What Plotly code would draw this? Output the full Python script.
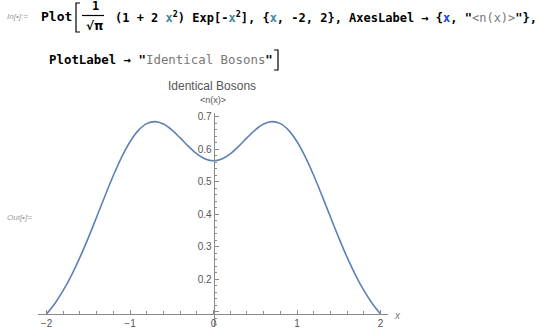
import plotly.graph_objects as go

# ---- data ----
x_vals = [-2.0, -1.9, -1.8, -1.7, -1.6, -1.5, -1.4, -1.3, -1.2, -1.1, -1.0,
          -0.9, -0.8, -0.7, -0.6, -0.5, -0.4, -0.3, -0.2, -0.1, 0.0,
          0.1, 0.2, 0.3, 0.4, 0.5, 0.6, 0.7, 0.8, 0.9, 1.0,
          1.1, 1.2, 1.3, 1.4, 1.5, 1.6, 1.7, 1.8, 1.9, 2.0]
n_vals = [0.0930, 0.1254, 0.1653, 0.2126, 0.2669, 0.3271, 0.3910, 0.4560, 0.5187, 0.5754, 0.6227,
          0.6576, 0.6783, 0.6844, 0.6771, 0.6591, 0.6346, 0.6085, 0.5854, 0.5698, 0.5642,
          0.5698, 0.5854, 0.6085, 0.6346, 0.6591, 0.6771, 0.6844, 0.6783, 0.6576, 0.6227,
          0.5754, 0.5187, 0.4560, 0.3910, 0.3271, 0.2669, 0.2126, 0.1653, 0.1254, 0.0930]
x_ticks = [-2, -1, 0, 1, 2]
x_tick_text = ["\u22122", "\u22121", "0", "1", "2"]
y_ticks = [0.1, 0.2, 0.3, 0.4, 0.5, 0.6, 0.7]
y_tick_text = ["", "0.2", "0.3", "0.4", "0.5", "0.6", "0.7"]
plot_title = "Identical Bosons"
y_label = "&lt;n(x)&gt;"
x_label = "x"

W, H = 546, 332
L, R, T, B = 38, 158, 113, 6
PW, PH = W - L - R, H - T - B
x_range = [-2.102, 2.089]
y_range = [0.056, 0.711]
x_cross = 0.0930  # y value where the x axis sits

AX = "#8a8a8a"
TXT = "#555555"
CURVE = "#5E81B5"


def px(xp):
    return (xp - L) / PW


def py(yp):
    return (H - B - yp) / PH


fig = go.Figure()
fig.add_trace(go.Scatter(x=x_vals, y=n_vals, mode="lines",
                         line=dict(color=CURVE, width=1.6, shape="spline"),
                         hoverinfo="skip", showlegend=False))

x_pos = (x_cross - y_range[0]) / (y_range[1] - y_range[0])
y_pos = (0 - x_range[0]) / (x_range[1] - x_range[0])

fig.update_layout(
    width=W, height=H, margin=dict(l=L, r=R, t=T, b=B, pad=0),
    paper_bgcolor="white", plot_bgcolor="white",
    font=dict(family="Liberation Sans, Arial, sans-serif", size=10, color=TXT),
    xaxis=dict(range=x_range, anchor="free", position=x_pos, showgrid=False, zeroline=False,
               showline=True, linecolor=AX, linewidth=1,
               tickmode="array", tickvals=x_ticks, ticktext=x_tick_text,
               ticks="inside", ticklen=4, tickcolor=AX, tickwidth=1,
               tickfont=dict(size=10, color=TXT),
               minor=dict(tickmode="linear", tick0=0, dtick=0.2, ticks="inside",
                          ticklen=2.5, tickcolor=AX, tickwidth=1),
               automargin=False, fixedrange=True),
    yaxis=dict(range=y_range, anchor="free", position=y_pos, showgrid=False, zeroline=False,
               showline=True, linecolor=AX, linewidth=1,
               tickmode="array", tickvals=y_ticks, ticktext=y_tick_text,
               ticks="inside", ticklen=4, tickcolor=AX, tickwidth=1,
               tickfont=dict(size=10, color=TXT),
               minor=dict(tickmode="linear", tick0=0, dtick=0.02, ticks="inside",
                          ticklen=2.5, tickcolor=AX, tickwidth=1),
               automargin=False, fixedrange=True),
)

anns = []


def ann(text, xp, yp, size=10, color=TXT, family="Liberation Sans, Arial, sans-serif",
        xanchor="center", yanchor="middle"):
    anns.append(dict(text=text, x=px(xp), y=py(yp), xref="paper", yref="paper",
                     showarrow=False, xanchor=xanchor, yanchor=yanchor,
                     font=dict(size=size, color=color, family=family)))


# chart labels
ann(plot_title, 212, 86, size=12, color="#555555")
ann(y_label, 213, 100, size=9, color="#555555")
ann("<i>" + x_label + "</i>", 397, 315, size=10, color="#777777")

# notebook code text
MONO = "DejaVu Sans Mono, Liberation Mono, monospace"
TEAL = "#3f8a9a"
BLUE = "#1f3fd6"
GRAY = "#777777"
ann("<i>In[\u2022]:=</i>", 5, 17, size=8, color="#999999", xanchor="left")
ann("<i>Out[\u2022]=</i>", 5, 217, size=8, color="#999999", xanchor="left")
ann("<b>Plot</b>", 39, 16, size=13, color="#000000", family=MONO, xanchor="left")
ann("<b>1</b>", 95, 6, size=12, color="#000000", family=MONO)
ann("<b>\u221a\u03c0</b>", 95, 26, size=12, color="#000000", family="DejaVu Sans")
line1 = ("<b>(1 + 2 <span style='color:%s'>x</span><sup>2</sup>) Exp[-<span style='color:%s'>x</span><sup>2</sup>], "
         "{<span style='color:%s'>x</span>, -2, 2}, AxesLabel \u2192 {<span style='color:%s'>x</span>, \"</b>"
         "<span style='color:%s'>&lt;n(x)&gt;</span><b>\"},</b>") % (TEAL, TEAL, TEAL, BLUE, GRAY)
ann(line1, 113, 17, size=12, color="#000000", family=MONO, xanchor="left")
line2 = ("<b>PlotLabel \u2192 \"</b><span style='color:%s'>Identical Bosons</span><b>\"</b>") % GRAY
ann(line2, 47, 60, size=12.4, color="#000000", family=MONO, xanchor="left")


def bracket_path(x_edge, y_top, y_bot, hook):
    x_in = x_edge + hook
    return "M %f,%f L %f,%f L %f,%f L %f,%f" % (
        px(x_in), py(y_top), px(x_edge), py(y_top), px(x_edge), py(y_bot), px(x_in), py(y_bot))


shapes = [
    dict(type="line", xref="paper", yref="paper",
         x0=px(82), x1=px(104), y0=py(15.5), y1=py(15.5),
         line=dict(color="#000000", width=1.2)),
    dict(type="path", xref="paper", yref="paper", path=bracket_path(76, 3, 32, 4),
         line=dict(color="#000000", width=1.2)),
    dict(type="path", xref="paper", yref="paper", path=bracket_path(278, 50, 70, -4),
         line=dict(color="#000000", width=1.2)),
]

fig.update_layout(annotations=anns, shapes=shapes)

fig.write_html("out.html")
